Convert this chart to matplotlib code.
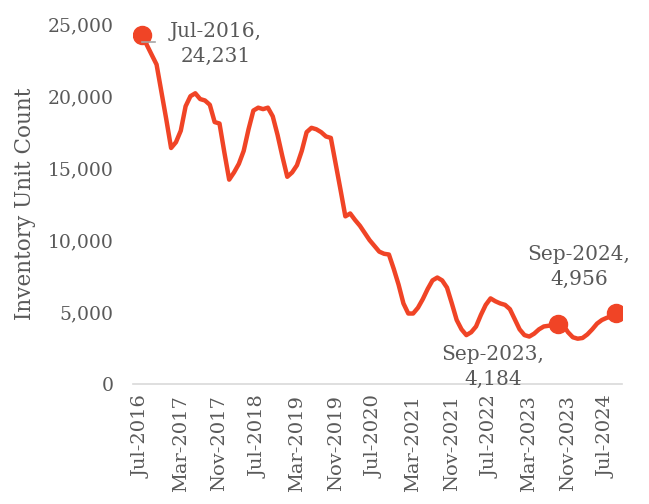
import matplotlib.pyplot as plt
import matplotlib.transforms as mtransforms
from matplotlib.ticker import FuncFormatter

plt.rcParams['font.family'] = ['DejaVu Serif']

# monthly inventory, Jul-2016 .. Sep-2024
inventory = [
    24231, 23550, 22870, 22200, 20300, 18400, 16400, 16800, 17600, 19300,
    20000, 20200, 19800, 19700, 19400, 18200, 18100, 16100, 14200, 14700,
    15300, 16200, 17700, 19000, 19200, 19100, 19200, 18600, 17300, 15800,
    14400, 14700, 15200, 16200, 17500, 17800, 17700, 17500, 17200, 17100,
    15300, 13500, 11650, 11850, 11400, 11000, 10500, 10000, 9600, 9200,
    9050, 9000, 8000, 6900, 5600, 4900, 4900, 5300, 5900, 6600,
    7200, 7400, 7200, 6700, 5600, 4450, 3800, 3400, 3600, 4000,
    4800, 5500, 5950, 5750, 5600, 5500, 5200, 4500, 3800, 3400,
    3300, 3500, 3800, 4000, 4050, 4100, 4184, 4100, 3600, 3250,
    3150, 3200, 3450, 3800, 4200, 4450, 4600, 4700, 4956,
]
months = ['Jan', 'Feb', 'Mar', 'Apr', 'May', 'Jun',
          'Jul', 'Aug', 'Sep', 'Oct', 'Nov', 'Dec']
labels = [months[(6 + i) % 12] + '-' + str(2016 + (6 + i) // 12)
          for i in range(len(inventory))]
highlight = ['Jul-2016', 'Sep-2023', 'Sep-2024']
# label offsets (points) from each highlighted point
label_offsets = {'Jul-2016': (53, -6), 'Sep-2023': (-47, -31), 'Sep-2024': (-27, 33)}

color = '#F04426'
text_color = '#595959'

fig = plt.figure(figsize=(6.49, 5.04), dpi=100)
ax = fig.add_axes([0.205, 0.238, 0.753, 0.714])

x = list(range(len(inventory)))
ax.plot(x, inventory, color=color, lw=3.2, solid_joinstyle='round')

ax.set_ylim(0, 25000)
ax.set_xlim(-1.86, 99.1)
ax.set_yticks(range(0, 25001, 5000))
ax.yaxis.set_major_formatter(FuncFormatter(lambda v, p: f'{int(v):,}'))
ax.set_xticks(x[::8])
ax.set_xticklabels(labels[::8], rotation=90)
ax.tick_params(length=0, colors=text_color)
ax.tick_params(axis='y', pad=14, labelsize=13.5)
ax.tick_params(axis='x', pad=8, labelsize=14)
for s in ['top', 'right', 'left']:
    ax.spines[s].set_visible(False)
ax.spines['bottom'].set_color('#d9d9d9')
ax.spines['bottom'].set_linewidth(1.2)
ax.set_ylabel('Inventory Unit Count', fontsize=15.5, color=text_color, labelpad=8)

# leader line on the first label
i = labels.index('Jul-2016')
lead = mtransforms.offset_copy(ax.transData, fig=fig, x=0, y=-7, units='dots')
ax.plot([i, i + 2.6], [inventory[i], inventory[i]], color='#a6a6a6', lw=1.2,
        transform=lead, zorder=4)

for lab in highlight:
    i = labels.index(lab)
    ax.plot(i, inventory[i], 'o', color=color, ms=13, zorder=3)
    ax.annotate(f'{lab},\n{inventory[i]:,}', (i, inventory[i]), xytext=label_offsets[lab],
                textcoords='offset points', ha='center', va='center', fontsize=14.5,
                color=text_color, linespacing=1.4)

fig.savefig('out.png', dpi=100)
